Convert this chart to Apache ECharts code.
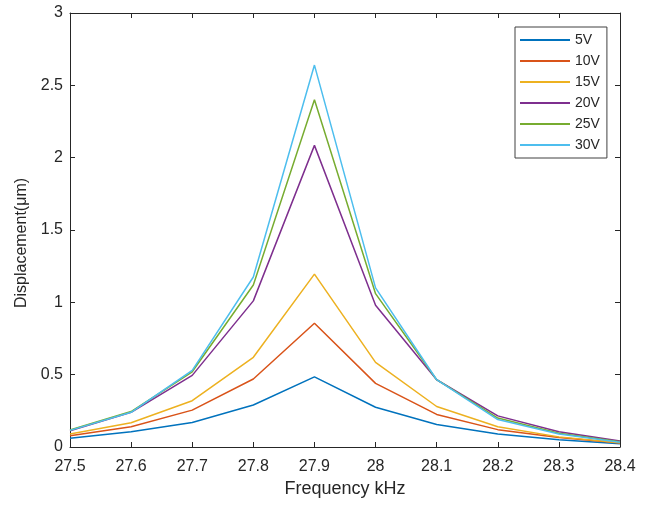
<!DOCTYPE html>
<html>
<head>
<meta charset="utf-8">
<script src="https://cdn.jsdelivr.net/npm/echarts@6/dist/echarts.min.js"></script>
<style>
  html, body { margin: 0; padding: 0; background: #fff; }
  #chart { width: 651px; height: 507px; }
</style>
</head>
<body>
<div id="chart"></div>
<script>
// Drive frequency (kHz)
const freq = [27.5, 27.6, 27.7, 27.8, 27.9, 28.0, 28.1, 28.2, 28.3, 28.4];

// Measured displacement (µm) at each drive voltage
const v5  = [0.060, 0.105, 0.170, 0.290, 0.485, 0.275, 0.155, 0.090, 0.050, 0.022];
const v10 = [0.078, 0.140, 0.255, 0.470, 0.855, 0.440, 0.225, 0.120, 0.065, 0.027];
const v15 = [0.090, 0.168, 0.320, 0.620, 1.195, 0.585, 0.280, 0.140, 0.070, 0.030];
const v20 = [0.112, 0.240, 0.495, 1.010, 2.085, 0.980, 0.465, 0.215, 0.105, 0.042];
const v25 = [0.118, 0.245, 0.520, 1.120, 2.400, 1.060, 0.465, 0.200, 0.095, 0.037];
const v30 = [0.115, 0.240, 0.530, 1.175, 2.640, 1.100, 0.465, 0.190, 0.090, 0.033];

const seriesNames = ['5V', '10V', '15V', '20V', '25V', '30V'];
const seriesValues = [v5, v10, v15, v20, v25, v30];
const colors = ['#0072BD', '#D95319', '#EDB120', '#7E2F8E', '#77AC30', '#4DBEEE'];

const xTicks = { min: 27.5, max: 28.4, interval: 0.1 };
const yTicks = { min: 0, max: 3, interval: 0.5 };

const axisColor = '#262626';
const font = 'Liberation Sans, Arial, Helvetica, sans-serif';

const chart = echarts.init(document.getElementById('chart'), null, { renderer: 'canvas' });

function boxAxis(extra) {
  return Object.assign({
    type: 'value',
    axisLine: { show: true, onZero: false, lineStyle: { color: axisColor, width: 1 } },
    axisTick: { show: true, inside: true, length: 5, lineStyle: { color: axisColor } },
    splitLine: { show: false },
    axisLabel: { show: false }
  }, extra);
}

chart.setOption({
  animation: false,
  backgroundColor: '#ffffff',
  color: colors,
  grid: { left: 70, right: 31, top: 13, bottom: 60, containLabel: false },
  xAxis: [
    boxAxis({
      position: 'bottom',
      min: xTicks.min, max: xTicks.max, interval: xTicks.interval,
      axisLabel: {
        show: true, color: axisColor, fontFamily: font, fontSize: 16, margin: 12,
        formatter: v => String(+(+v).toFixed(1))
      },
      name: 'Frequency kHz',
      nameLocation: 'middle',
      nameGap: 33,
      nameTextStyle: { color: axisColor, fontFamily: font, fontSize: 18 }
    }),
    boxAxis({ position: 'top', min: xTicks.min, max: xTicks.max, interval: xTicks.interval })
  ],
  yAxis: [
    boxAxis({
      position: 'left',
      min: yTicks.min, max: yTicks.max, interval: yTicks.interval,
      axisLabel: {
        show: true, color: axisColor, fontFamily: font, fontSize: 16, margin: 7,
        formatter: v => String(+(+v).toFixed(1))
      }
    }),
    boxAxis({ position: 'right', min: yTicks.min, max: yTicks.max, interval: yTicks.interval })
  ],
  legend: {
    show: true,
    orient: 'vertical',
    left: 515,
    top: 27,
    padding: [5, 7, 5, 5],
    icon: 'rect',
    itemWidth: 50,
    itemHeight: 2,
    itemGap: 5,
    backgroundColor: '#ffffff',
    borderColor: '#404040',
    borderWidth: 1,
    textStyle: { color: axisColor, fontFamily: font, fontSize: 14, lineHeight: 16 },
    data: seriesNames
  },
  graphic: [{
    type: 'text',
    x: 22,
    y: 243,
    rotation: Math.PI / 2,
    style: {
      text: 'Displacement(μm)',
      fill: axisColor,
      font: '16px ' + font,
      align: 'center',
      verticalAlign: 'middle'
    }
  }],
  series: seriesNames.map((name, i) => ({
    name: name,
    type: 'line',
    xAxisIndex: 0,
    yAxisIndex: 0,
    symbol: 'none',
    lineStyle: { width: 1.5, color: colors[i] },
    itemStyle: { color: colors[i] },
    data: freq.map((f, j) => [f, seriesValues[i][j]])
  }))
});
</script>
</body>
</html>
